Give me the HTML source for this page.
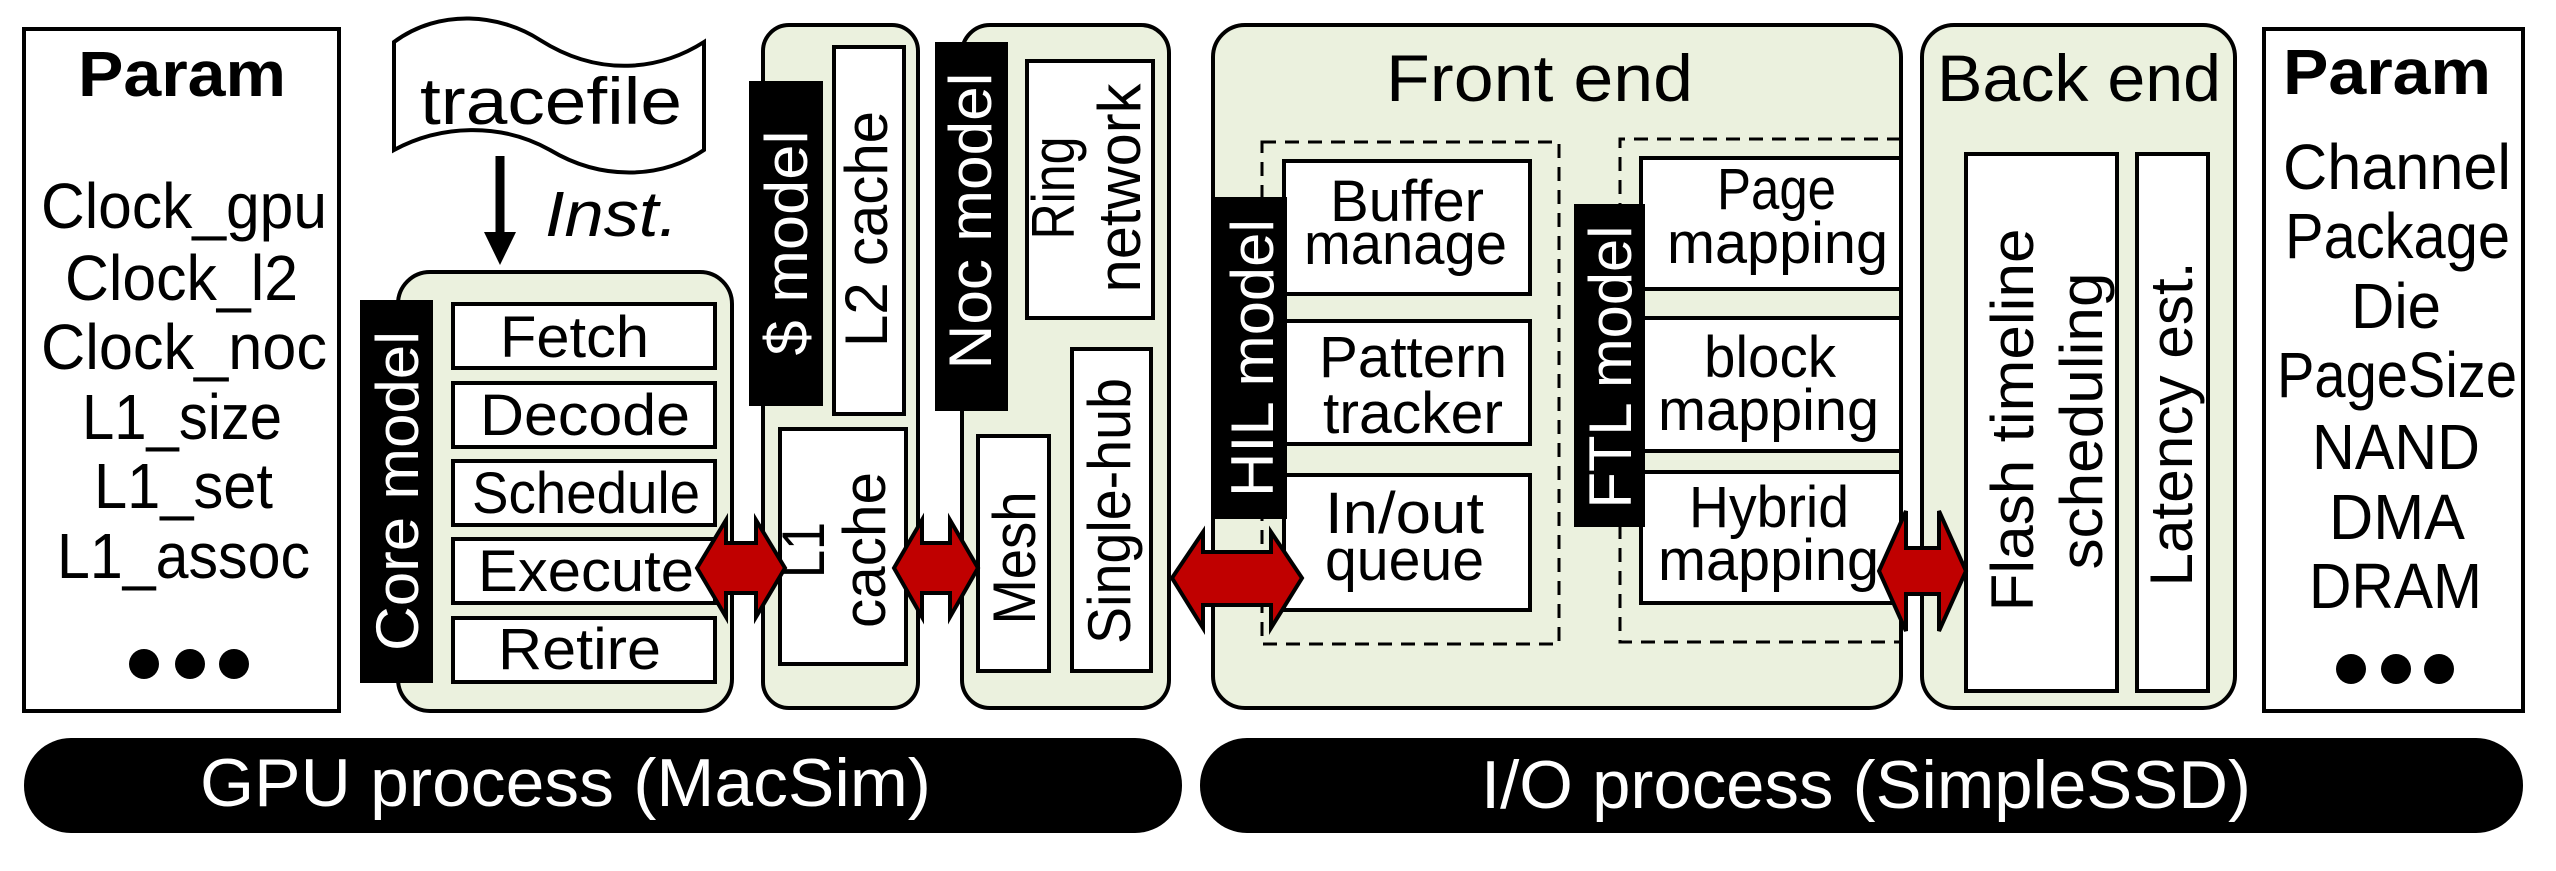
<!DOCTYPE html>
<html><head><meta charset="utf-8"><style>
html,body{margin:0;padding:0;background:#fff;}
svg{display:block;}
text{font-family:"Liberation Sans",sans-serif;fill:#000;}
.w{fill:#fff;}
</style></head><body>
<svg width="2556" height="871" viewBox="0 0 2556 871" xmlns="http://www.w3.org/2000/svg">
<g stroke="#000" stroke-width="4">
<rect x="24" y="29" width="315" height="682" fill="#fff"/>
<rect x="2264" y="29" width="259" height="682" fill="#fff"/>
<rect x="398" y="272" width="334" height="439" rx="32" fill="#ebf1de"/>
<rect x="763" y="25" width="155" height="683" rx="26" fill="#ebf1de"/>
<rect x="962" y="25" width="207" height="683" rx="28" fill="#ebf1de"/>
<rect x="1213" y="25" width="688" height="683" rx="32" fill="#ebf1de"/>
<rect x="1922" y="25" width="313" height="683" rx="32" fill="#ebf1de"/>
<rect x="453" y="304" width="262" height="64" fill="#fff"/>
<rect x="453" y="383" width="262" height="64" fill="#fff"/>
<rect x="453" y="461" width="262" height="64" fill="#fff"/>
<rect x="453" y="539" width="262" height="64" fill="#fff"/>
<rect x="453" y="618" width="262" height="64" fill="#fff"/>
<rect x="834" y="47" width="70" height="367" fill="#fff"/>
<rect x="780" y="429" width="126" height="235" fill="#fff"/>
<rect x="1027" y="61" width="126" height="257" fill="#fff"/>
<rect x="978" y="436" width="71" height="235" fill="#fff"/>
<rect x="1072" y="349" width="79" height="322" fill="#fff"/>
<rect x="1262" y="142" width="297" height="502" fill="none" stroke-dasharray="14 9" stroke-width="3"/>
<path d="M1901,139 H1620 V642 H1901" fill="none" stroke-dasharray="14 9" stroke-width="3"/>
<rect x="1284" y="161" width="246" height="133" fill="#fff"/>
<rect x="1284" y="321" width="246" height="123" fill="#fff"/>
<rect x="1284" y="475" width="246" height="135" fill="#fff"/>
<rect x="1641" y="158" width="260" height="131" fill="#fff"/>
<rect x="1641" y="318" width="260" height="133" fill="#fff"/>
<rect x="1641" y="472" width="260" height="131" fill="#fff"/>
<rect x="1966" y="154" width="151" height="537" fill="#fff"/>
<rect x="2137" y="154" width="71" height="537" fill="#fff"/>
<path d="M394,42 C440,8 500,14 540,40 C600,78 660,70 704,42 V150 C660,180 600,180 550,150 C500,122 440,125 394,150 Z" fill="#fff"/>
</g>
<rect x="360" y="300" width="73" height="383" fill="#000"/>
<rect x="749" y="81" width="74" height="325" fill="#000"/>
<rect x="935" y="42" width="73" height="369" fill="#000"/>
<rect x="1213" y="197" width="74" height="322" fill="#000"/>
<rect x="1574" y="204" width="71" height="323" fill="#000"/>
<rect x="24" y="738" width="1158" height="95" rx="47" fill="#000"/>
<rect x="1200" y="738" width="1323" height="95" rx="47" fill="#000"/>
<line x1="500" y1="156" x2="500" y2="235" stroke="#000" stroke-width="9"/>
<polygon points="484,232 516,232 500,265" fill="#000"/>
<g fill="#c00000" stroke="#000" stroke-width="4" stroke-linejoin="miter">
<polygon points="697,568 726,520 726,543 756,543 756,520 785,568 756,617 756,593 726,593 726,617"/>
<polygon points="894,568 922,520 922,543 950,543 950,520 978,568 950,617 950,593 922,593 922,617"/>
<polygon points="1172,578 1203,532 1203,552 1271,552 1271,532 1302,578 1271,628 1271,605 1203,605 1203,628"/>
<polygon points="1879,571 1906,511 1906,548 1939,548 1939,511 1966,571 1939,631 1939,594 1906,594 1906,631"/>
</g>
<text x="78" y="96" font-size="64" font-weight="bold" textLength="208" lengthAdjust="spacingAndGlyphs">Param</text>
<g font-size="64">
<text x="41" y="228" textLength="286" lengthAdjust="spacingAndGlyphs">Clock_gpu</text>
<text x="65" y="300" textLength="233" lengthAdjust="spacingAndGlyphs">Clock_l2</text>
<text x="41" y="369" textLength="286" lengthAdjust="spacingAndGlyphs">Clock_noc</text>
<text x="82" y="439" textLength="200" lengthAdjust="spacingAndGlyphs">L1_size</text>
<text x="94" y="508" textLength="179" lengthAdjust="spacingAndGlyphs">L1_set</text>
<text x="57" y="578" textLength="253" lengthAdjust="spacingAndGlyphs">L1_assoc</text>
</g>
<circle cx="144" cy="664" r="15"/><circle cx="190" cy="664" r="15"/><circle cx="234" cy="664" r="15"/>
<text x="420" y="124" font-size="66" textLength="262" lengthAdjust="spacingAndGlyphs">tracefile</text>
<text x="545" y="236" font-size="64" font-style="italic" textLength="133" lengthAdjust="spacingAndGlyphs">Inst.</text>
<g font-size="58">
<text x="500" y="357" textLength="149" lengthAdjust="spacingAndGlyphs">Fetch</text>
<text x="480" y="435" textLength="210" lengthAdjust="spacingAndGlyphs">Decode</text>
<text x="472" y="513" textLength="228" lengthAdjust="spacingAndGlyphs">Schedule</text>
<text x="478" y="591" textLength="216" lengthAdjust="spacingAndGlyphs">Execute</text>
<text x="498" y="669" textLength="163" lengthAdjust="spacingAndGlyphs">Retire</text>
</g>
<g font-size="60" text-anchor="middle">
<text class="w" transform="translate(418,491) rotate(-90)" textLength="320" lengthAdjust="spacingAndGlyphs">Core model</text>
<text class="w" transform="translate(807,243) rotate(-90)" textLength="225" lengthAdjust="spacingAndGlyphs">$ model</text>
<text transform="translate(887,229) rotate(-90)" textLength="236" lengthAdjust="spacingAndGlyphs">L2 cache</text>
<text transform="translate(824,550) rotate(-90)" textLength="56" lengthAdjust="spacingAndGlyphs">L1</text>
<text transform="translate(885,550) rotate(-90)" textLength="156" lengthAdjust="spacingAndGlyphs">cache</text>
<text class="w" transform="translate(991,221) rotate(-90)" textLength="297" lengthAdjust="spacingAndGlyphs">Noc model</text>
<text transform="translate(1074,188) rotate(-90)" textLength="103" lengthAdjust="spacingAndGlyphs">Ring</text>
<text transform="translate(1140,188) rotate(-90)" textLength="209" lengthAdjust="spacingAndGlyphs">network</text>
<text transform="translate(1035,558) rotate(-90)" textLength="133" lengthAdjust="spacingAndGlyphs">Mesh</text>
<text transform="translate(1130,511) rotate(-90)" textLength="266" lengthAdjust="spacingAndGlyphs">Single-hub</text>
<text class="w" transform="translate(1273,358) rotate(-90)" textLength="278" lengthAdjust="spacingAndGlyphs">HIL model</text>
<text class="w" transform="translate(1631,367) rotate(-90)" textLength="283" lengthAdjust="spacingAndGlyphs">FTL model</text>
<text transform="translate(2033,420) rotate(-90)" textLength="383" lengthAdjust="spacingAndGlyphs">Flash timeline</text>
<text transform="translate(2102,421) rotate(-90)" textLength="297" lengthAdjust="spacingAndGlyphs">scheduling</text>
<text transform="translate(2192,424) rotate(-90)" textLength="325" lengthAdjust="spacingAndGlyphs">Latency est.</text>
</g>
<g font-size="66">
<text x="1386" y="101" textLength="307" lengthAdjust="spacingAndGlyphs">Front end</text>
<text x="1937" y="101" textLength="284" lengthAdjust="spacingAndGlyphs">Back end</text>
</g>
<g font-size="58">
<text x="1330" y="221" textLength="154" lengthAdjust="spacingAndGlyphs">Buffer</text>
<text x="1304" y="264" textLength="203" lengthAdjust="spacingAndGlyphs">manage</text>
<text x="1319" y="377" textLength="188" lengthAdjust="spacingAndGlyphs">Pattern</text>
<text x="1323" y="433" textLength="180" lengthAdjust="spacingAndGlyphs">tracker</text>
<text x="1325" y="533" textLength="159" lengthAdjust="spacingAndGlyphs">In/out</text>
<text x="1325" y="580" textLength="159" lengthAdjust="spacingAndGlyphs">queue</text>
<text x="1717" y="209" textLength="119" lengthAdjust="spacingAndGlyphs">Page</text>
<text x="1667" y="263" textLength="221" lengthAdjust="spacingAndGlyphs">mapping</text>
<text x="1704" y="377" textLength="132" lengthAdjust="spacingAndGlyphs">block</text>
<text x="1658" y="430" textLength="221" lengthAdjust="spacingAndGlyphs">mapping</text>
<text x="1689" y="527" textLength="160" lengthAdjust="spacingAndGlyphs">Hybrid</text>
<text x="1658" y="580" textLength="221" lengthAdjust="spacingAndGlyphs">mapping</text>
</g>
<text x="2283" y="94" font-size="64" font-weight="bold" textLength="208" lengthAdjust="spacingAndGlyphs">Param</text>
<g font-size="64">
<text x="2283" y="189" textLength="228" lengthAdjust="spacingAndGlyphs">Channel</text>
<text x="2285" y="258" textLength="225" lengthAdjust="spacingAndGlyphs">Package</text>
<text x="2351" y="328" textLength="90" lengthAdjust="spacingAndGlyphs">Die</text>
<text x="2277" y="397" textLength="240" lengthAdjust="spacingAndGlyphs">PageSize</text>
<text x="2312" y="469" textLength="168" lengthAdjust="spacingAndGlyphs">NAND</text>
<text x="2329" y="539" textLength="136" lengthAdjust="spacingAndGlyphs">DMA</text>
<text x="2309" y="608" textLength="173" lengthAdjust="spacingAndGlyphs">DRAM</text>
</g>
<circle cx="2351" cy="669" r="15"/><circle cx="2396" cy="669" r="15"/><circle cx="2439" cy="669" r="15"/>
<text class="w" x="200" y="806" font-size="68" textLength="731" lengthAdjust="spacingAndGlyphs">GPU process (MacSim)</text>
<text class="w" x="1481" y="808" font-size="68" textLength="770" lengthAdjust="spacingAndGlyphs">I/O process (SimpleSSD)</text>
</svg>
</body></html>
